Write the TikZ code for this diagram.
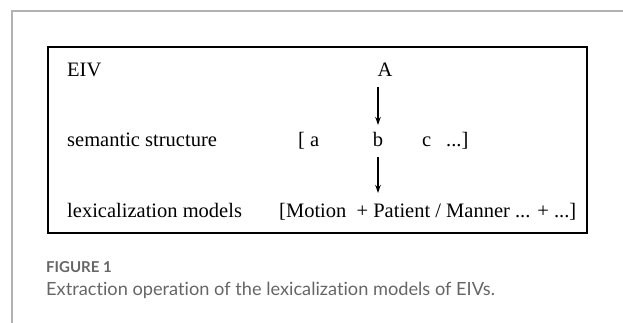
\documentclass[tikz,border=0pt]{standalone}
\usepackage{fontspec}
\setmainfont{Liberation Serif}
\newfontfamily\capfont[Ligatures={NoCommon,NoRare,NoDiscretionary,NoContextual}]{Lato}
\usetikzlibrary{arrows.meta}
\begin{document}
\begin{tikzpicture}[x=1pt,y=-1pt,
  lbl/.style={inner sep=0pt, anchor=base west, font=\fontsize{20.5}{24}\selectfont},
  ctr/.style={inner sep=0pt, anchor=base, font=\fontsize{20.5}{24}\selectfont},
  arr/.style={line width=1.4pt, -{Stealth[length=8pt,width=5.5pt]}},
  frame/.style={draw=black!30, line width=1.3pt},
  capstyle/.style={anchor=base west, inner sep=0pt, text=black!60}]
\useasboundingbox (0,0) rectangle (623,323);
\draw[frame] (12,323) -- (12,11) -- (623,11);
\node[draw, line width=1.8pt, minimum width=539pt, minimum height=186pt, anchor=north west, inner sep=0pt, outer sep=0pt] (box) at (48,47) {};
\node[lbl] (eiv) at (67,77) {EIV};
\node[ctr] (A) at (385,77) {A};
\node[lbl] (sem) at (67,147) {semantic structure};
\node[lbl] (sa) at (298,147) {[ a};
\node[ctr] (b) at (378,147) {b};
\node[lbl] (sc) at (422,147) {c};
\node[lbl] (sd) at (446,147) {...]};
\node[lbl] (lex) at (67,217) {lexicalization models};
\node[lbl] (lm) at (279,217) {[Motion\ \ + Patient / Manner ... + ...]};
\coordinate (t1) at (378,125);
\coordinate (t2) at (378,193);
\draw[arr, shorten <=10pt] (t1 |- A.south) -- (t1);
\draw[arr, shorten <=10pt] (b.south) -- (t2);
\node[capstyle, font=\capfont\bfseries\fontsize{15}{17}\selectfont] (fig) at (46,272) {FIGURE 1};
\node[capstyle, font=\capfont\fontsize{18.2}{20}\selectfont] (cap) at (46,295) {Extraction operation of the lexicalization models of EIVs.};
\end{tikzpicture}
\end{document}
